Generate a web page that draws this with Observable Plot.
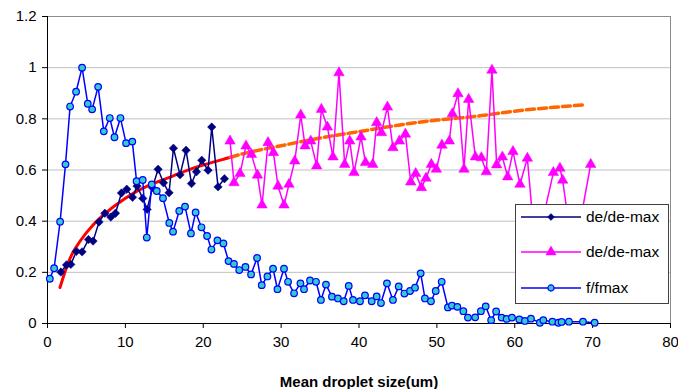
<!DOCTYPE html>
<html><head><meta charset="utf-8">
<script src="https://cdn.jsdelivr.net/npm/d3@7"></script>
<script src="https://cdn.jsdelivr.net/npm/@observablehq/plot@0.6"></script>
<style>
body{margin:0;background:#fff;}
#wrap{position:relative;width:678px;height:389px;font-family:"Liberation Sans",Arial,sans-serif;}
#legend{position:absolute;left:515px;top:204px;width:154px;height:100px;border:1px solid #404040;background:#fff;box-sizing:border-box;}
.row{position:absolute;left:4px;height:20px;display:flex;align-items:center;}
.row span{font-size:15.5px;color:#000;margin-left:4px;white-space:nowrap;}
g[aria-label="x-axis label"] text{font-weight:bold;}
</style></head><body><div id="wrap"></div>
<script>
// ---- data ----
const xTicks = [0,10,20,30,40,50,60,70,80];
const yTicks = [0,0.2,0.4,0.6,0.8,1,1.2];
const xTitle = "Mean droplet size(um)";
const seriesNames = ["de/de-max","de/de-max","f/fmax"];

const navyX = [1.71,2.44,2.99,3.72,4.44,5.26,5.85,6.62,7.36,8.13,8.73,9.50,10.18,10.92,11.50,12.23,12.79,13.48,14.20,14.89,15.61,16.17,17.02,17.79,18.49,19.13,19.81,20.62,21.09,21.90,22.72];
const navyY = [0.201,0.229,0.231,0.282,0.28,0.328,0.322,0.397,0.431,0.416,0.431,0.51,0.525,0.493,0.537,0.489,0.446,0.531,0.603,0.55,0.511,0.685,0.581,0.677,0.547,0.593,0.638,0.599,0.768,0.534,0.566];

const magX = [23.44,23.95,24.72,25.49,26.19,26.96,27.55,28.32,29.01,29.60,30.37,31.01,31.75,32.52,33.07,33.80,34.57,35.17,35.94,36.66,37.43,38.16,38.81,39.36,40.26,40.83,41.76,42.27,42.88,43.65,44.36,45.19,45.96,46.64,47.28,48.01,48.60,49.29,49.94,50.65,51.60,51.99,52.71,53.48,54.08,54.94,55.71,56.35,57.07,57.68,58.41,59.09,59.77,60.67,61.62,62.3,63.0,63.7,64.96,65.80,66.15,66.8,67.5,68.1,68.6,69.75];
const magY = [0.713,0.55,0.586,0.694,0.661,0.58,0.463,0.707,0.668,0.537,0.463,0.544,0.635,0.815,0.694,0.713,0.616,0.837,0.768,0.651,0.98,0.622,0.713,0.59,0.729,0.629,0.622,0.785,0.746,0.846,0.687,0.713,0.74,0.553,0.586,0.531,0.568,0.622,0.603,0.697,0.713,0.82,0.898,0.603,0.876,0.651,0.648,0.593,0.99,0.62,0.651,0.573,0.672,0.544,0.646,0.41,0.35,0.42,0.59,0.607,0.56,0.42,0.33,0.38,0.43,0.622];

const fX = [0.30,0.85,1.62,2.31,2.90,3.67,4.44,5.17,5.73,6.50,7.23,8.00,8.60,9.37,10.09,10.89,11.44,12.23,12.75,13.39,14.03,14.83,15.64,16.12,16.92,17.66,18.42,19.02,19.77,20.49,21.05,21.82,22.59,23.25,23.94,24.62,25.42,26.14,26.91,27.51,28.24,28.96,29.53,30.37,30.89,31.66,32.48,32.94,33.71,34.48,35.11,35.76,36.53,37.30,38.04,38.68,39.23,40.13,40.77,41.63,42.27,42.82,43.59,44.36,45.10,45.83,46.55,47.19,47.92,48.47,49.24,49.85,50.62,51.42,51.94,52.63,53.40,53.99,54.92,55.65,56.27,56.97,57.61,58.32,58.96,59.64,60.59,61.31,62.08,63.23,63.67,64.83,65.60,66.02,66.96,68.76,70.26];
const fY = [0.175,0.216,0.398,0.622,0.848,0.906,1.0,0.859,0.837,0.925,0.751,0.803,0.728,0.803,0.705,0.711,0.556,0.561,0.336,0.544,0.518,0.49,0.393,0.359,0.44,0.457,0.352,0.434,0.376,0.342,0.289,0.325,0.313,0.244,0.233,0.209,0.221,0.192,0.256,0.15,0.184,0.214,0.134,0.214,0.163,0.118,0.157,0.134,0.168,0.163,0.092,0.152,0.105,0.098,0.087,0.147,0.092,0.087,0.11,0.087,0.106,0.08,0.157,0.092,0.145,0.117,0.127,0.14,0.196,0.098,0.087,0.127,0.163,0.063,0.07,0.065,0.048,0.023,0.024,0.048,0.067,0.013,0.047,0.023,0.018,0.023,0.016,0.01,0.019,0.003,0.013,0.007,0.003,0.006,0.007,0.007,0.003];

// trend line (red solid part, orange dashed part)
const trendRedX = [1.6,2.5,3.5,5,7,10,13,16,19,22.7,23.5];
const trendRedY = [0.14,0.225,0.29,0.355,0.42,0.49,0.54,0.575,0.61,0.643,0.65];
const trendOrX = [23.5,26,30,35,40,45,50,55,60,65,69];
const trendOrY = [0.65,0.67,0.695,0.725,0.75,0.775,0.795,0.81,0.83,0.845,0.855];

// ---- build tables ----
const zip = (xs, ys) => xs.map((x, i) => ({x, y: ys[i]}));
const navy = zip(navyX, navyY), mag = zip(magX, magY), ff = zip(fX, fY);
const tRed = zip(trendRedX, trendRedY), tOr = zip(trendOrX, trendOrY);

const C_NAVY = "#000080", C_MAG = "#ff00ff", C_BLUE = "#0000ff", C_CYAN = "#33cccc";

const chart = Plot.plot({
  width: 678, height: 389,
  marginLeft: 47, marginRight: 8, marginTop: 16, marginBottom: 66,
  style: {fontFamily: "'Liberation Sans', Arial, sans-serif", fontSize: "15px", color: "#000", background: "#fff"},
  x: {domain: [0, 80]},
  y: {domain: [0, 1.2]},
  marks: [
    Plot.gridY(yTicks.filter(d => d > 0), {stroke: "#c0c0c0", strokeOpacity: 1}),
    Plot.frame({stroke: "#8c8c8c"}),
    Plot.axisY(yTicks, {tickSize: 5, tickPadding: 6, tickFormat: d => String(d), label: null, fontSize: 15}),
    Plot.axisX(xTicks, {tickSize: 5, tickPadding: 8, fontSize: 15, label: xTitle, labelAnchor: "center", labelOffset: 63, labelArrow: false}),
    Plot.ruleY([0], {stroke: "#000"}),
    Plot.ruleX([0], {stroke: "#000"}),
    Plot.line(tRed, {x: "x", y: "y", stroke: "#ff0000", strokeWidth: 3, curve: "natural"}),
    Plot.line(tOr, {x: "x", y: "y", stroke: "#ff6600", strokeWidth: 3.5, strokeDasharray: "8,4", curve: "natural"}),
    Plot.line(navy, {x: "x", y: "y", stroke: C_NAVY, strokeWidth: 1.5}),
    Plot.dot(navy, {x: "x", y: "y", symbol: "diamond2", r: 3.8, fill: C_NAVY, stroke: C_NAVY, strokeWidth: 0.5}),
    Plot.line(mag, {x: "x", y: "y", stroke: C_MAG, strokeWidth: 1.5}),
    Plot.dot(mag, {x: "x", y: "y", symbol: "triangle", r: 3.9, fill: C_MAG, stroke: C_MAG, strokeWidth: 0.5}),
    Plot.line(ff, {x: "x", y: "y", stroke: C_BLUE, strokeWidth: 1.5}),
    Plot.dot(ff, {x: "x", y: "y", r: 3.3, fill: C_CYAN, stroke: C_BLUE, strokeWidth: 1.2})
  ]
});
const wrap = document.getElementById("wrap");
wrap.appendChild(chart);

// ---- legend ----
const legend = d3.select(wrap).append("div").attr("id", "legend");
const legendStyle = [
  {stroke: C_NAVY, fill: C_NAVY, sym: d3.symbolDiamond2, size: 30, sw: 0.5},
  {stroke: C_MAG, fill: C_MAG, sym: d3.symbolTriangle, size: 45, sw: 0.5},
  {stroke: C_BLUE, fill: C_CYAN, sym: d3.symbolCircle, size: 30, sw: 1.2}
];
seriesNames.forEach((name, i) => {
  const s = legendStyle[i];
  const row = legend.append("div").attr("class", "row").style("top", (2 + i * 35.3) + "px");
  const svg = row.append("svg").attr("width", 62).attr("height", 16);
  svg.append("line").attr("x1", 1).attr("x2", 61).attr("y1", 8).attr("y2", 8).attr("stroke", s.stroke).attr("stroke-width", 1.5);
  svg.append("path").attr("d", d3.symbol(s.sym, s.size)()).attr("transform", "translate(31,8)")
    .attr("fill", s.fill).attr("stroke", s.stroke).attr("stroke-width", s.sw);
  row.append("span").text(name);
});
</script>
</body></html>
